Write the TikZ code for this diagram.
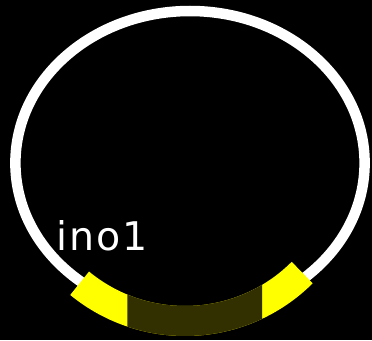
\documentclass[tikz,border=0pt]{standalone}
\usepackage{fontspec}
\newfontfamily\labelfont[LetterSpace=5]{DejaVu Sans}
\definecolor{bandyellow}{RGB}{255,255,0}
\definecolor{banddark}{RGB}{50,47,0}
\tikzset{
  ring/.style={draw=white, line width=10.5pt},
  bandarc/.style={line width=30pt, line cap=butt},
  labeltext/.style={text=white, font=\labelfont\fontsize{39.5}{41}\selectfont, inner sep=0pt, anchor=base west}
}
\begin{document}
\begin{tikzpicture}[x=1pt,y=-1pt]
\useasboundingbox[fill=black] (0,0) rectangle (372,340);
\draw[ring] (190,163) ellipse[x radius=174.6, y radius=152];
\coordinate (bc) at (185,155);
\draw[bandarc, draw=bandyellow] (bc) ++(129.4:166) arc[start angle=129.4, end angle=45.1, radius=166];
\begin{scope}
\clip (127.3,0) rectangle (262,340);
\draw[bandarc, draw=banddark] (bc) ++(129.4:166) arc[start angle=129.4, end angle=45.1, radius=166];
\end{scope}
\node[labeltext] (lbl) at (56,250) {ino1};
\end{tikzpicture}
\end{document}
